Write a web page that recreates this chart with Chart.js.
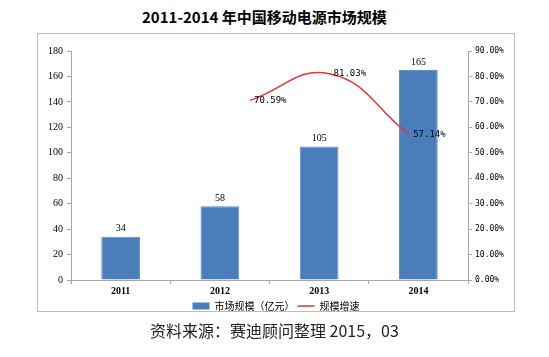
<!DOCTYPE html>
<html><head><meta charset="utf-8">
<script src="https://cdn.jsdelivr.net/npm/chart.js@4"></script>
<style>
html,body{margin:0;padding:0;background:#fff;}
#wrap{position:relative;width:549px;height:357px;overflow:hidden;}
#title{position:absolute;left:142px;top:7px;white-space:nowrap;font-family:'Noto Sans CJK SC';font-weight:bold;font-size:15px;color:#000;line-height:20px;}
#box{position:absolute;left:37px;top:33px;width:476px;height:277px;border:1px solid #bdbdbd;}
#c{position:absolute;left:38px;top:34px;}
#src{position:absolute;left:150px;top:320px;white-space:nowrap;font-family:'Noto Sans CJK SC';font-size:16px;color:#222;line-height:20px;}
</style></head>
<body><div id="wrap">
<div id="title">2011-2014 年中国移动电源市场规模</div>
<div id="box"></div>
<canvas id="c" width="476" height="287"></canvas>
<div id="src">资料来源：赛迪顾问整理 2015，03</div>
</div>
<script>
const years = ['2011','2012','2013','2014'];
const marketSize = [34, 58, 105, 165];
const growthYearIndex = [1, 2, 3];
const growthRate = [70.59, 81.03, 57.14];
const sizeLabel = '市场规模（亿元）';
const growthLabel = '规模增速';

const labelPlugin = {
  id: 'valueLabels',
  afterDatasetsDraw(chart) {
    const ctx = chart.ctx;
    ctx.save();
    const m0 = chart.getDatasetMeta(0);
    ctx.fillStyle = '#000';
    ctx.font = "10px 'Liberation Serif'";
    ctx.textAlign = 'center';
    ctx.textBaseline = 'bottom';
    m0.data.forEach((el, i) => {
      ctx.fillText(String(marketSize[i]), el.x, el.y - 3);
    });
    const m1 = chart.getDatasetMeta(1);
    ctx.font = "9px 'DejaVu Sans Mono'";
    ctx.textAlign = 'left';
    ctx.textBaseline = 'middle';
    m1.data.forEach((el, i) => {
      ctx.fillText(growthRate[i].toFixed(2) + '%', el.x + 4, el.y);
    });
    ctx.restore();
  }
};

new Chart(document.getElementById('c'), {
  type: 'bar',
  data: {
    labels: years,
    datasets: [{
      label: sizeLabel,
      data: marketSize,
      backgroundColor: '#4A7EBB',
      borderColor: '#5E8FC9',
      borderWidth: 1,
      grouped: false,
      barPercentage: 0.78,
      categoryPercentage: 0.5,
      yAxisID: 'y',
      xAxisID: 'x',
      order: 2
    },{
      type: 'line',
      label: growthLabel,
      data: growthYearIndex.map((x, i) => ({x: x, y: growthRate[i]})),
      borderColor: '#D63B3B',
      backgroundColor: '#D63B3B',
      borderWidth: 1.5,
      pointRadius: 0,
      tension: 0.45,
      fill: false,
      yAxisID: 'y2',
      xAxisID: 'xl',
      order: 1
    }]
  },
  options: {
    responsive: false,
    animation: false,
    layout: {padding: {top: 17, left: 0, right: 0, bottom: 0}},
    plugins: {
      legend: {
        position: 'bottom',
        labels: {
          usePointStyle: true,
          pointStyleWidth: 17,
          boxHeight: 7,
          padding: 3,
          color: '#000',
          font: {family: "'Noto Sans CJK SC'", size: 10},
          generateLabels(chart) {
            return chart.data.datasets.map((ds, i) => ({
              text: ds.label,
              fillStyle: i === 0 ? '#4A7EBB' : '#D63B3B',
              strokeStyle: i === 0 ? '#4A7EBB' : '#D63B3B',
              lineWidth: i === 0 ? 0 : 1.5,
              pointStyle: i === 0 ? 'rect' : 'line',
              datasetIndex: i,
              hidden: false
            }));
          }
        }
      },
      tooltip: {enabled: false}
    },
    scales: {
      x: {
        type: 'category',
        position: 'bottom',
        offset: true,
        grid: {display: true, drawOnChartArea: false, offset: true, tickLength: 4, color: '#a6a6a6'},
        border: {color: '#a6a6a6', width: 1},
        ticks: {color: '#000', font: {family: "'Liberation Serif'", size: 10, weight: 'bold'}, padding: 1}
      },
      xl: {
        type: 'linear',
        display: false,
        min: -1,
        max: 3.49
      },
      y: {
        position: 'left',
        min: 0, max: 180,
        ticks: {stepSize: 20, color: '#000', font: {family: "'Liberation Serif'", size: 10}, padding: 4},
        grid: {display: true, drawOnChartArea: false, tickLength: 4, color: '#a6a6a6'},
        border: {color: '#a6a6a6', width: 1},
        afterFit(s) { s.width = 33; }
      },
      y2: {
        position: 'right',
        min: 0, max: 90,
        ticks: {stepSize: 10, color: '#000', font: {family: "'DejaVu Sans Mono'", size: 8}, padding: 3,
          callback: v => Number(v).toFixed(2) + '%'},
        grid: {display: true, drawOnChartArea: false, tickLength: 4, color: '#a6a6a6'},
        border: {color: '#a6a6a6', width: 1},
        afterFit(s) { s.width = 46; }
      }
    }
  },
  plugins: [labelPlugin]
});
</script>
</body></html>
